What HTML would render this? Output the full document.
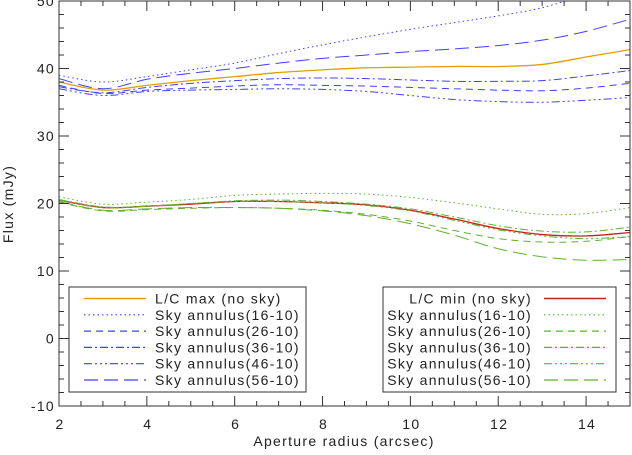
<!DOCTYPE html>
<html><head><meta charset="utf-8"><style>
body{margin:0;background:#fff;width:632px;height:450px;overflow:hidden}
text{font-family:"Liberation Sans",sans-serif;fill:#222;letter-spacing:1.3px}
</style></head><body>
<svg id="chart" width="632" height="450" xmlns="http://www.w3.org/2000/svg"></svg>
<script>
const xs=[2,3,4,5,6,7,8,9,10,11,12,13,14,15];
const maxNoSky=[38,36.8,37.5,38.2,38.8,39.4,39.8,40.1,40.2,40.3,40.3,40.6,41.7,42.8];
const max16=[39,38,38.8,39.8,40.8,42.2,43.5,44.7,45.8,46.8,47.8,49,51,53];
const max26=[37.5,36.3,36.8,37.1,37.4,37.6,37.5,37.4,37.2,37,36.8,36.7,37.1,37.8];
const max36=[37.3,36.4,37.2,37.8,38.2,38.5,38.6,38.5,38.3,38.1,38.1,38.2,38.9,39.7];
const max46=[37,36,36.6,36.8,36.9,37,36.9,36.6,36,35.4,35.1,35,35.3,35.7];
const max56=[38.5,37,38.4,39.3,40,40.8,41.5,42,42.5,42.9,43.4,44.2,45.5,47.3];
const minNoSky=[20.5,19.4,19.6,19.9,20.3,20.3,20.1,19.8,19,17.7,16.3,15.4,15.2,15.7];
const min16=[21,19.9,20.2,20.6,21.2,21.4,21.5,21.4,20.9,20.1,19.2,18.4,18.5,19.4];
const min26=[20.2,18.9,19.1,19.3,19.4,19.3,19.0,18.4,17.4,16,14.8,14.3,14.4,15.1];
const min36=[20.6,19.5,19.6,20,20.4,20.5,20.3,19.9,19.2,18,16.7,15.9,15.8,16.5];
const min46=[20.5,19.4,19.6,20,20.3,20.3,20.1,19.7,18.9,17.5,16.1,15.2,14.8,15.1];
const min56=[20.3,19.0,19.2,19.4,19.4,19.3,18.9,18.2,17,15.3,13.3,12.1,11.6,11.7];
const xTicks=[2,4,6,8,10,12,14];
const yTicks=[-10,0,10,20,30,40,50];

const X0=59,X1=630,Y0=1,Y1=406;
const sx=v=>X0+(v-2)*(X1-X0)/13;
const sy=v=>Y0+(50-v)*(Y1-Y0)/60;
const svg=document.getElementById('chart');
const NS='http://www.w3.org/2000/svg';
function mk(t,a,p){const e=document.createElementNS(NS,t);for(const k in a)e.setAttribute(k,a[k]);(p||svg).appendChild(e);return e;}
const clip=mk('clipPath',{id:'pc'});mk('rect',{x:X0,y:Y0,width:X1-X0,height:Y1-Y0},clip);
function path(ys){const p=xs.map((x,i)=>[sx(x),sy(ys[i])]);let d='M'+p[0][0]+','+p[0][1];
for(let i=0;i<p.length-1;i++){const a=p[Math.max(i-1,0)],b=p[i],c=p[i+1],e=p[Math.min(i+2,p.length-1)];
d+=' C'+(b[0]+(c[0]-a[0])/6)+','+(b[1]+(c[1]-a[1])/6)+' '+(c[0]-(e[0]-b[0])/6)+','+(c[1]-(e[1]-b[1])/6)+' '+c[0]+','+c[1];}return d;}
const B='#4040ff',G='#60b030';
const styles={solid:'',dot:'1.5,3',dash:'7,5',dashdot:'8,3,2,3',dash3:'8,3,2,3,2,3,2,3',long:'14,6'};
const series=[
['line-lc-max',maxNoSky,'#e0a000','solid',1.3],['line-max-16-10',max16,B,'dot',1],['line-max-26-10',max26,B,'dash',1],
['line-max-36-10',max36,B,'dashdot',1],['line-max-46-10',max46,B,'dash3',1],['line-max-56-10',max56,B,'long',1],
['line-lc-min',minNoSky,'#cc2020','solid',1.3],['line-min-16-10',min16,G,'dot',1],['line-min-26-10',min26,G,'dash',1],
['line-min-36-10',min36,G,'dashdot',1],['line-min-46-10',min46,G,'dash3',1],['line-min-56-10',min56,G,'long',1]];
const g=mk('g',{'clip-path':'url(#pc)'});
series.forEach(s=>{const e=mk('path',{d:path(s[1]),fill:'none',stroke:s[2],'stroke-width':s[4],'stroke-dasharray':styles[s[3]]},g);

});
const ax=mk('rect',{x:X0,y:Y0,width:X1-X0,height:Y1-Y0,fill:'none',stroke:'#333','stroke-width':1});


for(let v=2;v<=15.01;v+=0.5){const big=Math.abs(v/2-Math.round(v/2))<1e-6;const L=big?10:5;
mk('line',{x1:sx(v),x2:sx(v),y1:Y1,y2:Y1-L,stroke:'#333'});mk('line',{x1:sx(v),x2:sx(v),y1:Y0,y2:Y0+L,stroke:'#333'});}
for(let v=-10;v<=50;v+=2){const big=v%10===0;const L=big?10:5;
mk('line',{x1:X0,x2:X0+L,y1:sy(v),y2:sy(v),stroke:'#333'});mk('line',{x1:X1,x2:X1-L,y1:sy(v),y2:sy(v),stroke:'#333'});}
xTicks.forEach(v=>{const t=mk('text',{x:sx(v)+1,y:429,'text-anchor':'middle','font-size':14});t.textContent=v;

});
yTicks.forEach(v=>{const t=mk('text',{x:X0-4,y:sy(v)+5,'text-anchor':'end','font-size':14});t.textContent=v;

});
let t=mk('text',{x:344,y:446,'text-anchor':'middle','font-size':14});t.textContent='Aperture radius (arcsec)';


t=mk('text',{x:0,y:0,'text-anchor':'middle','font-size':14,transform:'translate(13,204) rotate(-90)'});t.textContent='Flux (mJy)';


const labels=['Sky annulus(16-10)','Sky annulus(26-10)','Sky annulus(36-10)','Sky annulus(46-10)','Sky annulus(56-10)'];
function legend(x,w,first,color,firstColor,right,name){
const lg=mk('g',{});
mk('rect',{x:x,y:287,width:w,height:105,fill:'#fff',stroke:'#333'},lg);
const names=[first].concat(labels),keys=['solid','dot','dash','dashdot','dash3','long'];
names.forEach((n,i)=>{const y=303.5+i*16.3;const c=i===0?firstColor:color;
const lx=right?x+161:x+15;
const ln=mk('line',{x1:lx,x2:lx+62,y1:y-5,y2:y-5,stroke:c,'stroke-width':i===0?1.5:1.2,'stroke-dasharray':styles[keys[i]]},lg);


const tt=mk('text',right?{x:x+149,y:y,'text-anchor':'end','font-size':14}:{x:x+86,y:y,'font-size':14},lg);tt.textContent=n;

});}
legend(69,237,'L/C max (no sky)',B,'#e0a000',false,'legend-max');
legend(383,233,'L/C min (no sky)',G,'#cc2020',true,'legend-min');
</script></body></html>
